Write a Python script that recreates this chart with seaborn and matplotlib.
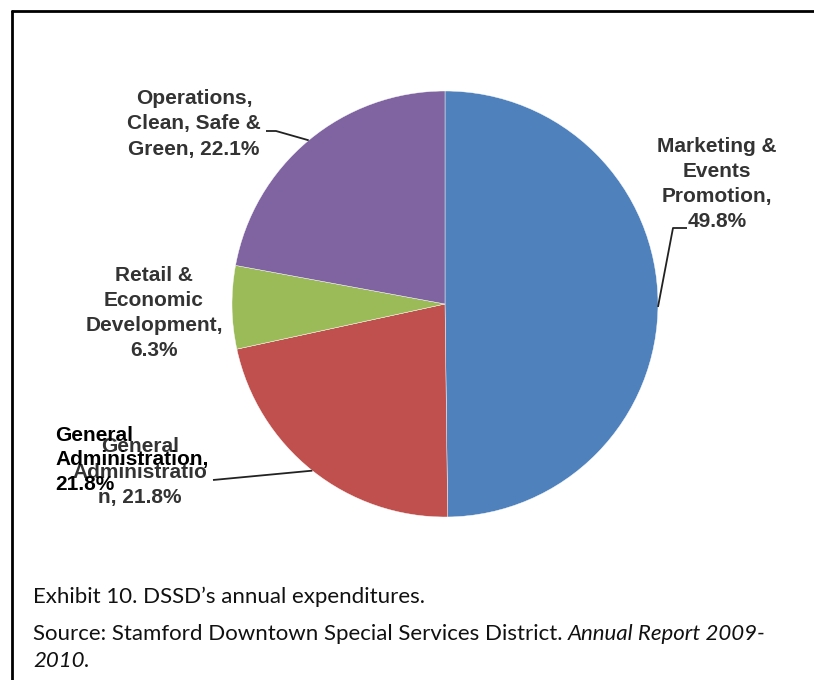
import matplotlib
matplotlib.use("Agg")
import matplotlib.pyplot as plt
import seaborn as sns
import numpy as np
from matplotlib.lines import Line2D

# ---------------- data ----------------
categories = ["Marketing & Events Promotion", "General Administration",
              "Retail & Economic Development", "Operations, Clean, Safe & Green"]
values = [49.8, 21.8, 6.3, 22.1]
colors = ["#4F81BD", "#C0504D", "#9BBB59", "#8064A2"]
# label text as it appears (with the chart's line breaks)
label_texts = [
    "Marketing &\nEvents\nPromotion,\n{:.1f}%".format(values[0]),
    "General\nAdministratio\nn, {:.1f}%".format(values[1]),
    "Retail &\nEconomic\nDevelopment,\n{:.1f}%".format(values[2]),
    "Operations,\nClean, Safe &\nGreen, {:.1f}%".format(values[3]),
]
overlay_text = "General\nAdministration,\n{:.1f}%".format(values[1])
caption = "Exhibit 10. DSSD\u2019s annual expenditures."
source_plain = "Source: Stamford Downtown Special Services District."
source_italic = "Annual Report 2009-"
source_italic2 = "2010."

# ---------------- style ----------------
sns.set_theme(style="white")
plt.rcParams["font.family"] = ["Liberation Sans", "DejaVu Sans"]

W_PX, H_PX = 814, 680
fig = plt.figure(figsize=(W_PX / 100, H_PX / 100), dpi=100)
fig.patch.set_facecolor("white")

# pie geometry in pixels
CX, CY, R = 445, 304, 213
ax = fig.add_axes([(CX - R) / W_PX, (H_PX - CY - R) / H_PX, 2 * R / W_PX, 2 * R / H_PX])
wedges, _ = ax.pie(values, colors=colors, startangle=90, counterclock=False, radius=1,
                   wedgeprops=dict(edgecolor="white", linewidth=0.3))
ax.set_xlim(-1, 1)
ax.set_ylim(-1, 1)
ax.set_aspect("equal")
ax.axis("off")


def P(x, y):
    """pixel position -> data coordinates of the pie axes"""
    return ((x - CX) / R, (CY - y) / R)


lab_color = "#333333"
lab_kw = dict(fontsize=15, fontweight="bold", color=lab_color, ha="center", va="center",
              linespacing=1.4)

# label centers (pixel layout)
label_pos = [(717, 184), (140, 472), (154, 313), (194, 124)]
for t, (x, y) in zip(label_texts, label_pos):
    ax.text(*P(x, y), t, clip_on=False, **lab_kw)

# leader lines
def edge_point(angle_deg):
    a = np.deg2rad(angle_deg)
    return (np.cos(a), np.sin(a))

mid = [(w.theta1 + w.theta2) / 2 for w in wedges]
lk = dict(color="#222222", lw=1.3, solid_capstyle="butt", clip_on=False)
# Marketing
e = edge_point(-0.8)
pts = [P(687, 228), P(673, 228), e]
ax.add_line(Line2D([p[0] for p in pts], [p[1] for p in pts], **lk))
# Operations
e = edge_point(mid[3])
pts = [P(266, 131), P(276, 131), e]
ax.add_line(Line2D([p[0] for p in pts], [p[1] for p in pts], **lk))
# General administration
e = edge_point(mid[1])
pts = [P(213, 480), e]
ax.add_line(Line2D([p[0] for p in pts], [p[1] for p in pts], **lk))

# black overlay label
fig.text(55 / W_PX, 1 - 460 / H_PX, overlay_text, fontsize=15, fontweight="bold",
         color="black", ha="left", va="center", linespacing=1.35)

# border (left and top only visible)
fig.add_artist(Line2D([12 / W_PX, 12 / W_PX], [0, 1 - 11 / H_PX], transform=fig.transFigure,
                      color="black", lw=2))
fig.add_artist(Line2D([12 / W_PX, 1], [1 - 11 / H_PX, 1 - 11 / H_PX], transform=fig.transFigure,
                      color="black", lw=2))

# captions
cap_kw = dict(fontsize=16, family=["Lato", "DejaVu Sans"], color="#111111", va="center", ha="left")
fig.text(33 / W_PX, 1 - 597 / H_PX, caption, **cap_kw)
t1 = fig.text(33 / W_PX, 1 - 634 / H_PX, source_plain, **cap_kw)
fig.canvas.draw()
bb = t1.get_window_extent()
fig.text((bb.x1 + 5) / W_PX, 1 - 634 / H_PX, source_italic, style="italic", **cap_kw)
fig.text(33 / W_PX, 1 - 661 / H_PX, source_italic2, style="italic", **cap_kw)

fig.savefig("out.png", dpi=100, facecolor="white")
